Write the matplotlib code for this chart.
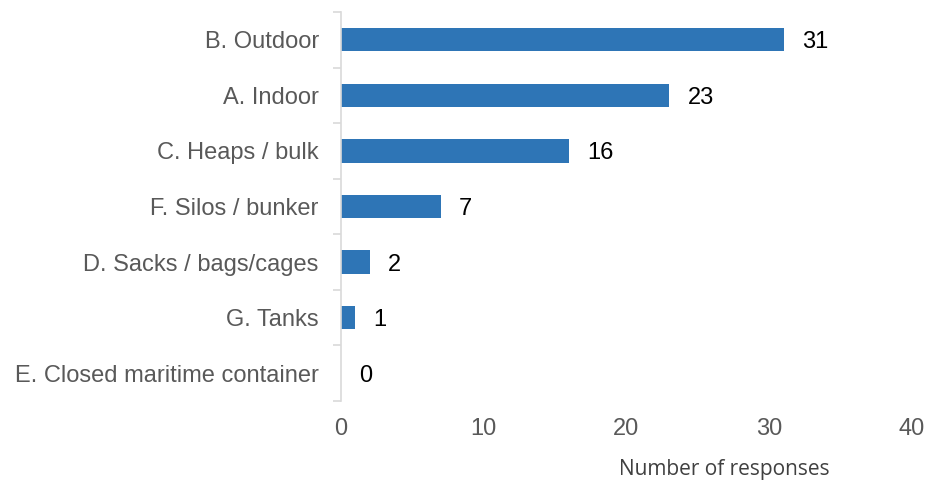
import matplotlib.pyplot as plt
import numpy as np

categories = ["B. Outdoor", "A. Indoor", "C. Heaps / bulk", "F. Silos / bunker",
              "D. Sacks / bags/cages", "G. Tanks", "E. Closed maritime container"]
responses = [31, 23, 16, 7, 2, 1, 0]
x_ticks = [0, 10, 20, 30, 40]

plt.rcParams['font.family'] = ['Liberation Sans', 'DejaVu Sans']

fig = plt.figure(figsize=(9.32, 4.82), dpi=100)
ax = fig.add_axes([341 / 932, 1 - 401 / 482, (912 - 341) / 932, (401 - 12) / 482])

y_pos = np.arange(len(categories))
ax.barh(y_pos, responses, height=0.42, color='#2E75B6')
ax.set_ylim(len(categories) - 0.5, -0.5)
ax.set_xlim(0, 40)

# value labels at bar ends
for y, v in zip(y_pos, responses):
    ax.annotate(str(v), (v, y), xytext=(13, 0), textcoords='offset points',
                va='center_baseline', ha='left', fontsize=17, color='black')

ax.set_yticks(y_pos)
ax.set_yticklabels(categories, fontsize=17, color='#595959')
ax.set_yticks(np.arange(len(categories) + 1) - 0.5, minor=True)
ax.tick_params(axis='y', which='major', length=0, pad=16)
ax.tick_params(axis='y', which='minor', length=6, color='#D9D9D9', width=1.2)

ax.set_xticks(x_ticks)
ax.set_xticklabels([str(t) for t in x_ticks], fontsize=17, color='#595959')
ax.tick_params(axis='x', length=0, pad=12)

for side in ['top', 'right', 'bottom']:
    ax.spines[side].set_visible(False)
ax.spines['left'].set_color('#D9D9D9')
ax.spines['left'].set_linewidth(1.2)

fig.text(724 / 932, 1 - 469 / 482, "Number of responses", ha='center', va='center',
         fontsize=15, color='#404040', family=['Open Sans', 'DejaVu Sans'])

fig.savefig('out.png', dpi=100)
